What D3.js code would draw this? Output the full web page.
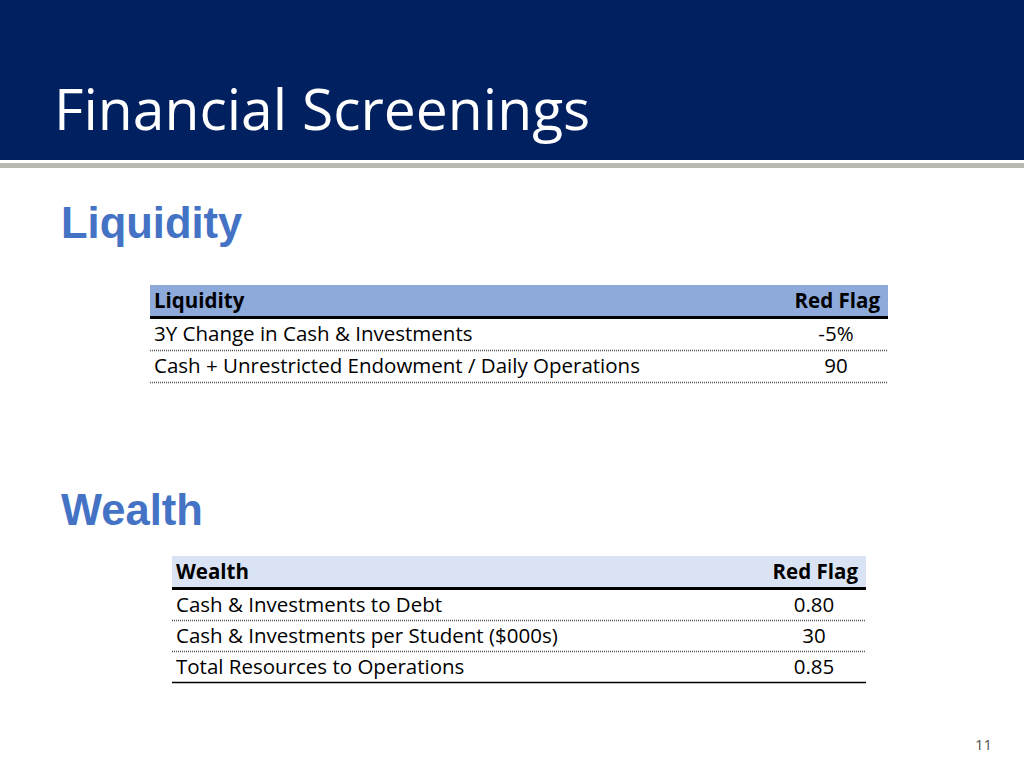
<!DOCTYPE html>
<html><head><meta charset="utf-8">
<script src="https://cdn.jsdelivr.net/npm/d3@7"></script>
<style>body{margin:0;background:#fff}svg{display:block}</style>
</head><body><svg id="s" width="1024" height="768"></svg>
<script>
const liqLabels = ["3Y Change in Cash & Investments", "Cash + Unrestricted Endowment / Daily Operations"];
const liqValues = ["-5%", "90"];
const wealthLabels = ["Cash & Investments to Debt", "Cash & Investments per Student ($000s)", "Total Resources to Operations"];
const wealthValues = ["0.80", "30", "0.85"];

const svg = d3.select("#s");
svg.append("rect").attr("width", 1024).attr("height", 160).attr("fill", "#002060");
svg.append("rect").attr("y", 163).attr("width", 1024).attr("height", 5).attr("fill", "#b8b8b0");
svg.append("text").attr("x", 54).attr("y", 130).attr("fill", "#fff")
  .style("font", "57px 'Open Sans'").text("Financial Screenings");
svg.append("text").attr("x", 975).attr("y", 750).attr("fill", "#555")
  .style("font", "15px 'Open Sans'").text("11");

function section(title, ty, x0, x1, top, head, headFill, labels, values, lastSolid, rowH) {
  svg.append("text").attr("x", 61).attr("y", ty).attr("fill", "#4472c4")
    .style("font", "bold 43.5px 'Liberation Sans'").text(title);
  const g = svg.append("g").style("font-family", "'Open Sans'").style("font-size", "20.5px");
  const headH = 31;
  g.append("rect").attr("x", x0).attr("y", top).attr("width", x1 - x0).attr("height", headH).attr("fill", headFill);
  g.append("text").attr("x", x0 + 4).attr("y", top + 23).attr("font-weight", "bold").text(head);
  g.append("text").attr("x", x1 - 8).attr("y", top + 23).attr("font-weight", "bold").attr("text-anchor", "end").text("Red Flag");
  g.append("line").attr("x1", x0).attr("x2", x1).attr("y1", top + headH + 1.5).attr("y2", top + headH + 1.5)
    .attr("stroke", "#000").attr("stroke-width", 3);
  const y = d3.scaleBand().domain(d3.range(labels.length)).range([top + headH + 3, top + headH + 3 + rowH * labels.length]);
  const rows = g.selectAll(".r").data(labels).join("g").attr("transform", (d, i) => `translate(0,${y(i)})`);
  rows.append("text").attr("x", x0 + 4).attr("y", 22).text(d => d);
  rows.append("text").attr("x", x1 - 52).attr("y", 22).attr("text-anchor", "middle").text((d, i) => values[i]);
  const solid = i => lastSolid && i === labels.length - 1;
  rows.append("line").attr("x1", x0).attr("x2", x1).attr("y1", rowH - 0.5).attr("y2", rowH - 0.5)
    .attr("stroke", (d, i) => solid(i) ? "#000" : "#555")
    .attr("stroke-width", 1.5)
    .attr("stroke-dasharray", (d, i) => solid(i) ? null : "1,1");
}
section("Liquidity", 238, 150, 888, 285, "Liquidity", "#8eaadb", liqLabels, liqValues, false, 32);
section("Wealth", 525, 172, 866, 556, "Wealth", "#dae3f3", wealthLabels, wealthValues, true, 31);
</script></body></html>
